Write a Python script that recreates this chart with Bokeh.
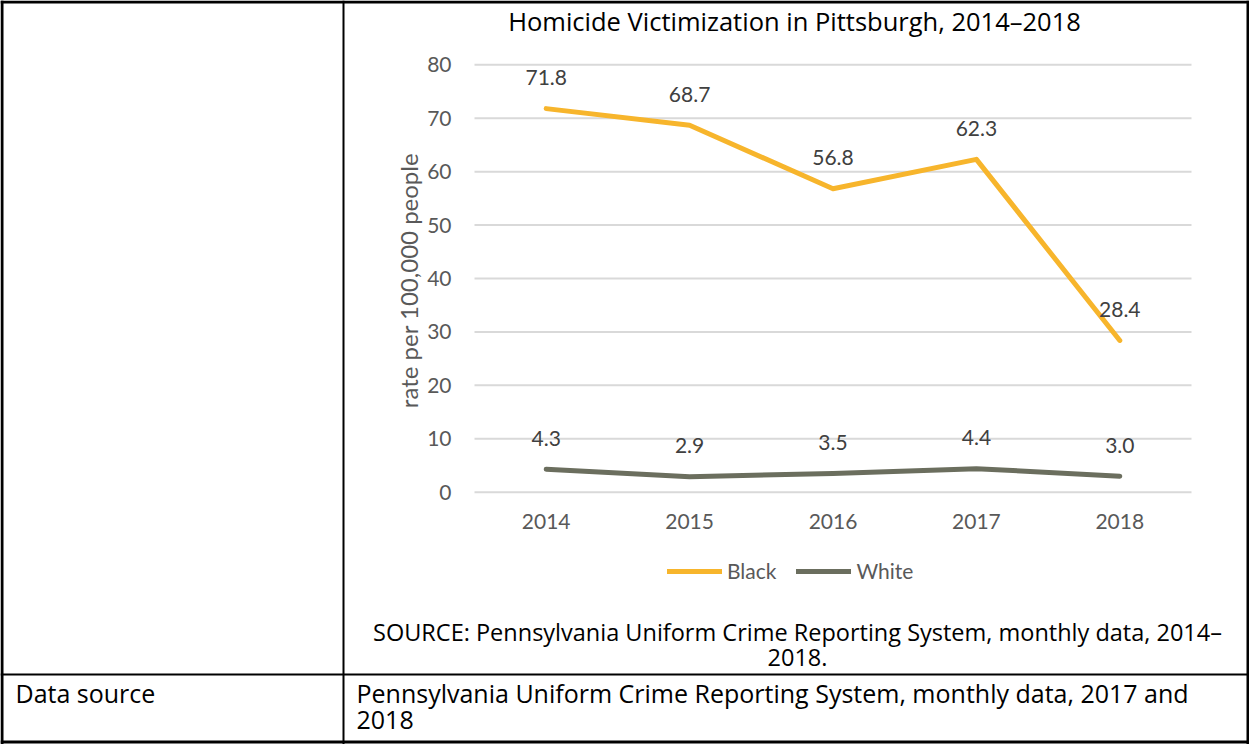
import math
from bokeh.plotting import figure
from bokeh.models import (Range1d, Label, BoxAnnotation, Legend, LegendItem,
                          FixedTicker, LinearAxis, ColumnDataSource)
from bokeh.embed import file_html
from bokeh.resources import INLINE
from bokeh.core.properties import value

# ---- data ----
years = ["2014", "2015", "2016", "2017", "2018"]
black_rate = [71.8, 68.7, 56.8, 62.3, 28.4]
white_rate = [4.3, 2.9, 3.5, 4.4, 3.0]
black_labels = ["71.8", "68.7", "56.8", "62.3", "28.4"]
white_labels = ["4.3", "2.9", "3.5", "4.4", "3.0"]
y_ticks = [0, 10, 20, 30, 40, 50, 60, 70, 80]
series_names = ["Black", "White"]

FONT = "Lato"
TFONT = "Open Sans"
W, H = 1249, 744

# category positions (one slot per year)
xpos = list(range(len(years)))

# plot-area placement on the canvas (pixels)
PL, PR, PT, PB = 474.0, 1191.0, 64.3, 491.7
y_min, y_max = y_ticks[0], y_ticks[-1]
ppx = (PR - PL) / len(years)
ppy = (PB - PT) / (y_max - y_min)
x_lo = -0.5 - PL / ppx
x_hi = x_lo + W / ppx
y_lo = y_min - (H - PB) / ppy
y_hi = y_lo + H / ppy

p = figure(width=W, height=H, x_range=Range1d(x_lo, x_hi), y_range=Range1d(y_lo, y_hi),
           x_axis_type=None, y_axis_type=None, output_backend="svg",
           toolbar_location=None, min_border=0)
p.outline_line_color = None
p.background_fill_color = "white"
p.border_fill_color = "white"

# gridlines across the plot area
grid_src = ColumnDataSource(dict(x0=[-0.5] * len(y_ticks), x1=[len(years) - 0.5] * len(y_ticks),
                                 y=y_ticks))
p.segment(x0="x0", x1="x1", y0="y", y1="y", source=grid_src, line_color="#d9d9d9", line_width=2)

# axes
xaxis = LinearAxis(fixed_location=y_min, ticker=FixedTicker(ticks=xpos),
                   major_label_overrides={i: y for i, y in zip(xpos, years)})
xaxis.axis_line_color = None
xaxis.major_tick_line_color = None
xaxis.minor_tick_line_color = None
xaxis.major_label_text_font = FONT
xaxis.major_label_text_font_size = "21px"
xaxis.major_label_text_color = "#595959"
xaxis.major_label_standoff = 16
p.add_layout(xaxis, "below")

yaxis = LinearAxis(fixed_location=-0.5, ticker=FixedTicker(ticks=y_ticks))
yaxis.axis_line_color = None
yaxis.major_tick_line_color = None
yaxis.minor_tick_line_color = None
yaxis.major_label_text_font = FONT
yaxis.major_label_text_font_size = "21px"
yaxis.major_label_text_color = "#595959"
yaxis.major_label_standoff = 17
p.add_layout(yaxis, "left")

rb = p.line(xpos, black_rate, line_color="#F7B52C", line_width=5,
            line_cap="round", line_join="round")
rw = p.line(xpos, white_rate, line_color="#6B6E5E", line_width=5,
            line_cap="round", line_join="round")

p.text(x=xpos, y=black_rate, text=black_labels, y_offset=-31, text_align="center",
       text_baseline="middle", text_font_size="21px", text_color="#404040",
       text_font=value(FONT))
p.text(x=xpos, y=white_rate, text=white_labels, y_offset=-31, text_align="center",
       text_baseline="middle", text_font_size="21px", text_color="#404040",
       text_font=value(FONT))

legend = Legend(items=[LegendItem(label=series_names[0], renderers=[rb]),
                       LegendItem(label=series_names[1], renderers=[rw])],
                orientation="horizontal", location=(667, 161),
                border_line_color=None, background_fill_alpha=0,
                label_text_font=FONT, label_text_font_size="21px",
                label_text_color="#595959", glyph_width=55, glyph_height=20,
                label_height=20, label_standoff=5, spacing=20, padding=0, margin=0)
p.add_layout(legend, "center")


def screen_label(x, y, text, align="center", size="22px", color="black", angle=0.0, font=TFONT):
    p.add_layout(Label(x=x, y=H - y, x_units="screen", y_units="screen", text=text,
                       text_align=align, text_baseline="middle", text_font=font,
                       text_font_size=size, text_color=color, angle=angle))


screen_label(408, 280, "rate per 100,000 people", size="24px", color="#595959",
             angle=math.pi / 2, font=FONT)
screen_label(794, 20, "Homicide Victimization in Pittsburgh, 2014\u20132018", size="25.5px")
screen_label(797, 631, "SOURCE: Pennsylvania Uniform Crime Reporting System, monthly data, 2014\u2013",
             size="23.5px")
screen_label(797, 657, "2018.", size="23.5px")
screen_label(15, 692, "Data source", align="left", size="25px")
screen_label(356, 692, "Pennsylvania Uniform Crime Reporting System, monthly data, 2017 and",
             align="left", size="25px")
screen_label(356, 719, "2018", align="left", size="25px")


def screen_box(l, r, t, b):
    p.add_layout(BoxAnnotation(left=l, right=r, top=H - t, bottom=H - b,
                               left_units="screen", right_units="screen",
                               top_units="screen", bottom_units="screen",
                               fill_color="black", fill_alpha=1, line_color=None))


screen_box(0, 3, 0, H)            # left border
screen_box(0, W, 0, 3)            # top border
screen_box(W - 3, W, 0, H)        # right border
screen_box(0, W, 740, 743)        # bottom border
screen_box(342, 344, 0, H)        # column divider
screen_box(0, W, 673, 675)        # row divider

open("out.html", "w").write(file_html(p, INLINE))
